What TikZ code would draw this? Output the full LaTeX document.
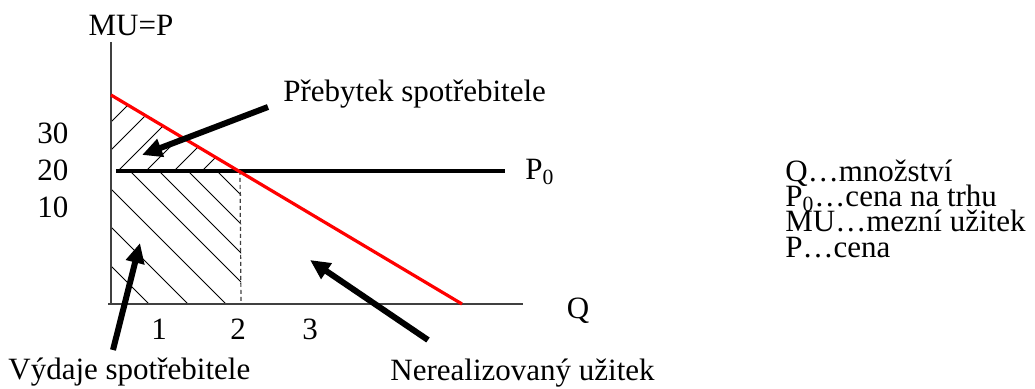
\documentclass[tikz,border=0pt]{standalone}
\usepackage{fontspec}
\setmainfont{Liberation Serif}
\usepackage{tikz}
\usetikzlibrary{arrows.meta,positioning}
\definecolor{CurveRed}{HTML}{FF0000}
\definecolor{AxisGray}{HTML}{404040}

\begin{document}
\begin{tikzpicture}[
  x=0.5pt,y=-0.5pt,
  every node/.style={font=\fontsize{15.5}{18}\selectfont,inner sep=0pt},
  txt/.style={anchor=base west},
  tick/.style={anchor=center},
  axis/.style={draw=AxisGray,line width=0.8pt},
  demand/.style={draw=CurveRed,line width=1.6pt},
  price/.style={draw=black,line width=2.2pt},
  guide/.style={draw=AxisGray,line width=0.6pt,dash pattern=on 2pt off 1.5pt},
  hatch/.style={draw=black,line width=0.5pt},
  pointer/.style={-{Triangle[length=10pt,width=9pt]},line width=3pt,
    color=black}
]
\useasboundingbox (0,0) rectangle (1035,389);

% axes and curves
\coordinate (O) at (111,304);
\coordinate (ytop) at (111,42);
\coordinate (xstart) at (108,304);
\coordinate (xend) at (523,304);
\coordinate (mutop) at (111,95);
\coordinate (muend) at (462,304);
\coordinate (pstart) at (116,171);
\coordinate (pend) at (505,171);
\coordinate (eq) at (240,171);
\coordinate (eqfoot) at (241,304);
\coordinate (pzero) at (111,171);

% hatched areas
\begin{scope}
  \clip (mutop) -- (pzero) -- (eq) -- cycle;
  \foreach \c in {233,261,289,317,345,373}
    \draw[hatch] (\c-200,200) -- (\c-40,40);
\end{scope}
\begin{scope}
  \clip (pzero) rectangle (eqfoot);
  \foreach \c in {46,17,-12,-41,-78,-116,-155}
    \draw[hatch] (\c+150,150) -- (\c+330,330);
\end{scope}

\draw[axis] (ytop) -- (O);
\draw[axis] (xstart) -- (xend);
\draw[guide] (eq) -- (eqfoot);
\draw[price] (pstart) -- (pend);
\draw[demand] (mutop) -- (muend);

\node[tick] (ylab) at (131,26) {MU=P};
\node[tick] (y30) at (53,133) {30};
\node[tick] (y20) at (53,170) {20};
\node[tick] (y10) at (53,207) {10};
\node[tick] (x1) at (159,329) {1};
\node[tick] (x2) at (238,329) {2};
\node[tick] (x3) at (310,329) {3};
\node[tick] (xlab) at (578,311) {Q};
\node[txt] (plab) at (525,180) {P\textsubscript{0}};

\node[txt] (surplus) at (283,102) {Přebytek spotřebitele};
\node[txt] (spend) at (8,380) {Výdaje spotřebitele};
\node[txt] (unreal) at (390,381) {Nerealizovaný užitek};

% legend
\node[txt] (legq) at (785,182) {Q…množství};
\node[txt] (legp0) at (785,207) {P\textsubscript{0}…cena na trhu};
\node[txt] (legmu) at (785,232) {MU…mezní užitek};
\node[txt] (legp) at (785,258) {P…cena};

% pointers
\coordinate (surplustail) at (268,107);
\coordinate (surplustip) at (142,155);
\coordinate (spendtail) at (113,350);
\coordinate (spendtip) at (140,243);
\coordinate (unrealtail) at (428,340);
\coordinate (unrealtip) at (310,260);
\draw[pointer] (surplustail) -- (surplustip);
\draw[pointer] (spendtail) -- (spendtip);
\draw[pointer] (unrealtail) -- (unrealtip);
\end{tikzpicture}
\end{document}
